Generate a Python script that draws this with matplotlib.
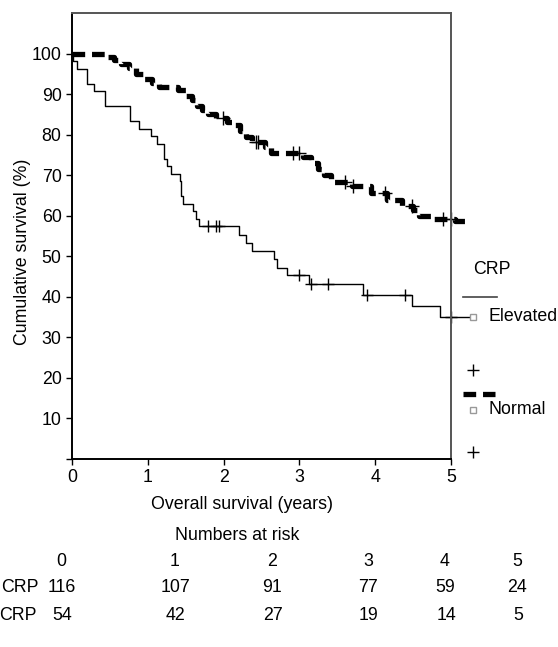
import matplotlib
matplotlib.use("Agg")
import matplotlib.pyplot as plt
from matplotlib.lines import Line2D

plt.rcParams['font.family'] = ['Liberation Sans', 'DejaVu Sans']

# Kaplan-Meier steps (years, cumulative survival %)
elev_t = [0.0, 0.01, 0.07, 0.20, 0.29, 0.43, 0.77, 0.89, 1.04, 1.12, 1.22, 1.25,
          1.31, 1.42, 1.44, 1.46, 1.60, 1.63, 1.68, 2.20, 2.29, 2.37, 2.67, 2.70,
          2.83, 3.13, 3.84, 4.49, 4.85, 5.26]
elev_s = [100, 98.2, 96.3, 92.6, 90.7, 87.0, 83.3, 81.5, 79.6, 77.8, 74.1, 72.2,
          70.4, 68.5, 64.8, 63.0, 61.1, 59.3, 57.4, 55.3, 53.3, 51.4, 49.3, 47.2,
          45.3, 43.2, 40.5, 37.8, 35.1, 35.1]
elev_cens = [1.79, 1.90, 1.94, 3.00, 3.15, 3.38, 3.89, 4.39, 5.00]

norm_t = [0.0, 0.46, 0.55, 0.65, 0.75, 0.85, 0.95, 1.05, 1.15, 1.40, 1.50, 1.58,
          1.65, 1.72, 1.80, 1.90, 2.05, 2.12, 2.22, 2.30, 2.38, 2.55, 2.62, 3.05,
          3.15, 3.25, 3.32, 3.42, 3.70, 3.95, 4.15, 4.35, 4.50, 4.58, 4.75, 5.05,
          5.24]
norm_s = [100, 99.2, 98.5, 97.5, 96.5, 95.0, 93.8, 92.8, 91.8, 91.0, 89.5, 88.5,
          87.0, 86.0, 85.0, 84.2, 83.0, 82.3, 80.8, 79.5, 78.3, 77.0, 75.5, 74.5,
          73.0, 71.5, 70.0, 68.2, 67.3, 65.5, 64.0, 62.5, 61.5, 60.0, 59.3, 58.7,
          58.7]
norm_cens = [1.99, 2.43, 2.45, 2.91, 3.00, 3.60, 3.71, 4.13, 4.48, 4.89, 5.00]

# numbers at risk table
risk_years = ['0', '1', '2', '3', '4', '5']
risk_normal = [116, 107, 91, 77, 59, 24]
risk_elevated = [54, 42, 27, 19, 14, 5]

FS = 12.8


def surv_at(t, times, surv):
    s = surv[0]
    for ti, si in zip(times, surv):
        if ti <= t:
            s = si
    return s


W, H = 558, 647
fig = plt.figure(figsize=(W / 100, H / 100), dpi=100)
ax = fig.add_axes([72 / W, 1 - 459 / H, 379 / W, 446 / H])

# curves
ax.step(elev_t, elev_s, where='post', color='black', lw=1.0, clip_on=False)
ax.plot(elev_cens, [surv_at(t, elev_t, elev_s) for t in elev_cens], '+',
        color='black', ms=9, mew=1.0, clip_on=False)
ax.step(norm_t, norm_s, where='post', color='black', lw=3.8,
        dashes=(2.4, 1.3), clip_on=False)
ax.plot(norm_cens, [surv_at(t, norm_t, norm_s) for t in norm_cens], '+',
        color='black', ms=10, mew=1.0, clip_on=False)

ax.set_xlim(0, 5)
ax.set_ylim(0, 110)
ax.set_xticks(range(0, 6))
ax.set_yticks(range(0, 101, 10))
ax.set_yticklabels([''] + [str(v) for v in range(10, 101, 10)])
ax.tick_params(labelsize=FS, length=4.5, width=1.0, pad=3)
for s in ['left', 'bottom']:
    ax.spines[s].set_linewidth(1.4)
    ax.spines[s].set_color('black')
for s in ['top', 'right']:
    ax.spines[s].set_linewidth(1.4)
    ax.spines[s].set_color('#555555')

ax.set_ylabel('Cumulative survival (%)', fontsize=FS, va='center')
ax.yaxis.set_label_coords(-0.13, 0.464)
ax.set_xlabel('Overall survival (years)', fontsize=FS, va='center')
ax.xaxis.set_label_coords(0.449, -0.103)

# legend, drawn by hand (SPSS style)
def px(x, y):
    return x / W, 1 - y / H

fig.text(*px(492, 270), 'CRP', fontsize=FS, ha='center', va='center')
fig.add_artist(Line2D([463 / W, 497 / W], [1 - 296.5 / H] * 2, color='#444444', lw=1.2))
fig.add_artist(Line2D([472.5 / W], [1 - 316.5 / H], marker='s', ms=4.5, mfc='white',
                      mec='#999999', mew=1.0, ls='none'))
fig.text(*px(488, 317), 'Elevated', fontsize=FS, ha='left', va='center')
fig.add_artist(Line2D([473 / W], [1 - 370 / H], marker='+', ms=9, mew=1.0,
                      color='black', ls='none'))
fig.add_artist(Line2D([463 / W, 495 / W], [1 - 393.5 / H] * 2, color='black',
                      lw=3.8, dashes=(2.4, 1.3)))
fig.add_artist(Line2D([472.5 / W], [1 - 410 / H], marker='s', ms=4.5, mfc='white',
                      mec='#999999', mew=1.0, ls='none'))
fig.text(*px(488, 410), 'Normal', fontsize=FS, ha='left', va='center')
fig.add_artist(Line2D([473 / W], [1 - 452 / H], marker='+', ms=9, mew=1.0,
                      color='black', ls='none'))

# numbers at risk
fig.text(*px(237, 535), 'Numbers at risk', fontsize=FS, ha='center', va='center')
col_x = [61.5, 175, 272, 368, 445, 517]
for cx, yr, a, b in zip(col_x, risk_years, risk_normal, risk_elevated):
    fig.text(*px(cx, 562), yr, fontsize=FS, ha='center', va='center')
    fig.text(*px(cx, 587), str(a), fontsize=FS, ha='center', va='center')
    fig.text(*px(cx + 1, 615), str(b), fontsize=FS, ha='center', va='center')
fig.text(*px(1, 587), 'CRP', fontsize=FS, ha='left', va='center')
fig.text(*px(37, 615), 'CRP', fontsize=FS, ha='right', va='center')

fig.savefig('out.png', dpi=100)
